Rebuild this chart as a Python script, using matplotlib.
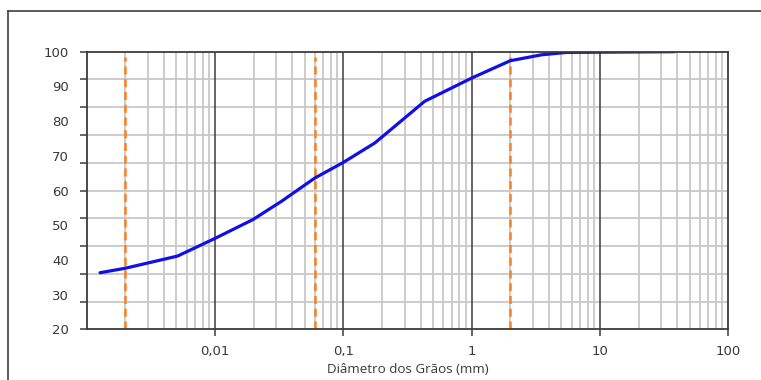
import numpy as np
import matplotlib
matplotlib.use("Agg")
import matplotlib.pyplot as plt
from matplotlib.lines import Line2D
from matplotlib.ticker import FixedLocator, NullFormatter, FixedFormatter

# Data
diametro = [0.00127, 0.002, 0.0051, 0.01, 0.0197, 0.033, 0.06, 0.1, 0.176, 0.43, 1.0, 2.0, 3.5, 5.5, 38]
passante = [36.3, 37.6, 41.1, 46.2, 51.6, 56.9, 63.6, 68.1, 73.7, 85.7, 92.4, 97.4, 99.1, 99.8, 100]
limites = [0.002, 0.06, 2.0]
xticks = [0.01, 0.1, 1, 10, 100]
xticklabels = ["0,01", "0,1", "1", "10", "100"]
ylabels_vals = [20, 30, 40, 50, 60, 70, 80, 90, 100]
ylabels = ["20", "30", "40", "50", "60", "70", "80", "90", "100"]
xlabel = "Diâmetro dos Grãos (mm)"

W, H = 761, 380
fig = plt.figure(figsize=(W / 100, H / 100), dpi=100)
fig.patch.set_facecolor("white")

L, R, T, B = 86.7, 728.3, 51.7, 329.3
ax = fig.add_axes([L / W, 1 - B / H, (R - L) / W, (B - T) / H])
ax.set_xscale("log")
ax.set_xlim(0.001, 100)
ax.set_ylim(20, 100)

# vertical grid lines
minor_x = [m * 10.0 ** e for e in range(-3, 2) for m in range(2, 10)]
for xv in minor_x:
    ax.axvline(xv, color="#c8c8c8", lw=1.3, zorder=1)
for xv in [0.01, 0.1, 1, 10]:
    ax.axvline(xv, color="#3c3c3c", lw=1.1, zorder=1.5)

# horizontal grid (major ticks every 8 units as in the reference)
ygrid = np.linspace(20, 100, 11)
for yv in ygrid[1:-1]:
    ax.axhline(yv, color="#c8c8c8", lw=1.3, zorder=1)

ax.yaxis.remove_overlapping_locs = False
ax.yaxis.set_major_locator(FixedLocator(ygrid))
ax.yaxis.set_major_formatter(NullFormatter())
ax.yaxis.set_minor_locator(FixedLocator(ylabels_vals))
ax.yaxis.set_minor_formatter(FixedFormatter(ylabels))
ax.tick_params(axis="y", which="major", length=5, width=1.1, color="#3c3c3c", direction="out")
ax.tick_params(axis="y", which="minor", length=0, pad=13, labelsize=9.5, labelcolor="#383838")

ax.xaxis.set_major_locator(FixedLocator(xticks))
ax.xaxis.set_major_formatter(FixedFormatter(xticklabels))
ax.xaxis.set_minor_locator(FixedLocator([]))
ax.tick_params(axis="x", which="major", length=5, width=1.1, color="#3c3c3c", direction="out",
               labelsize=9.5, labelcolor="#383838", pad=6)

for s in ax.spines.values():
    s.set_color("#3c3c3c")
    s.set_linewidth(1.3)
    s.set_zorder(5)

# limit lines
ax.vlines(limites, 20, 98.5, colors="#ff7f1e", linestyles=(0, (3.2, 1.9)), lw=1.8, zorder=3)

# curve
ax.plot(diametro, passante, color="#1010e6", lw=2.3, zorder=4,
        solid_joinstyle="round", solid_capstyle="round")

ax.set_xlabel(xlabel, fontsize=9.6, color="#383838", labelpad=4, family="Open Sans")

# outer border (cropped)
x0 = 8 / W
y0 = 1 - 11 / H
fig.add_artist(Line2D([x0, x0], [0, y0], transform=fig.transFigure, color="#404040", lw=1.2))
fig.add_artist(Line2D([x0, 1.0], [y0, y0], transform=fig.transFigure, color="#404040", lw=1.2))

fig.savefig("out.png", dpi=100, facecolor="white")
